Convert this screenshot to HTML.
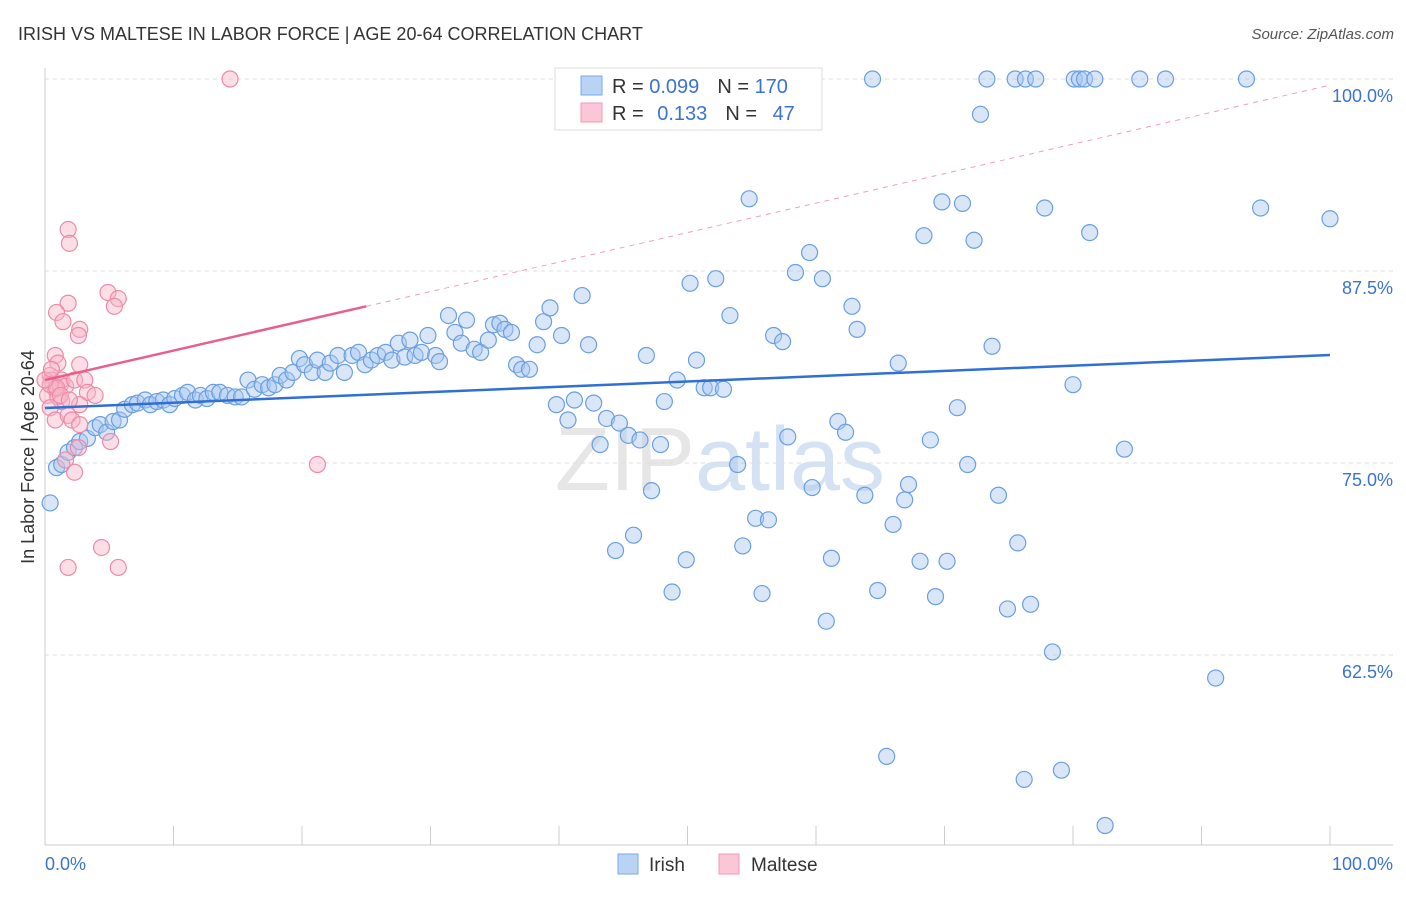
<!DOCTYPE html>
<html><head><meta charset="utf-8"><style>
body{margin:0;background:#fff;font-family:"Liberation Sans",sans-serif}
svg text{font-family:"Liberation Sans",sans-serif}
</style></head><body>
<svg id="chart" width="1406" height="892" xmlns="http://www.w3.org/2000/svg">
<text x="18" y="40" font-size="18" fill="#333">IRISH VS MALTESE IN LABOR FORCE | AGE 20-64 CORRELATION CHART</text>
<text x="1394" y="39" font-size="15" fill="#555" text-anchor="end" font-style="italic">Source: ZipAtlas.com</text>
<text x="720" y="490" font-size="90" text-anchor="middle" fill="#e6e6e6" font-family="Liberation Serif">ZIP<tspan fill="#d4e2f4" font-family="Liberation Sans">atlas</tspan></text>
<g id="grid"></g>
<g id="axes"></g>
<g id="trends"></g>
<g id="points"></g>
<g>
<rect x="555" y="68" width="267" height="62" fill="#fff" stroke="#ddd"/>
<rect x="581" y="76" width="21" height="19" fill="#b9d3f5" stroke="#7aa8e6"/>
<rect x="581" y="103" width="21" height="19" fill="#fbc6d6" stroke="#f09ab5"/>
<text x="612" y="93" font-size="20" fill="#333">R = <tspan fill="#3b73d1">0.099</tspan><tspan dx="18">N = </tspan><tspan fill="#3b73d1">170</tspan></text>
<text x="612" y="120" font-size="20" fill="#333">R = <tspan fill="#3b73d1" dx="8">0.133</tspan><tspan dx="18">N = </tspan><tspan fill="#3b73d1" dx="10">47</tspan></text>
</g>
<g>
<rect x="618" y="854" width="20" height="20" fill="#b9d3f5" stroke="#7aa8e6"/>
<text x="649" y="871" font-size="19" fill="#333">Irish</text>
<rect x="719" y="854" width="20" height="20" fill="#fbc6d6" stroke="#f09ab5"/>
<text x="751" y="871" font-size="19" fill="#333">Maltese</text>
</g>
<text transform="translate(34,457) rotate(-90)" font-size="18" fill="#333" text-anchor="middle">In Labor Force | Age 20-64</text>
</svg>
<script>
const yTicks=[62.5,75,87.5,100];
const yTickLabels=["62.5%","75.0%","87.5%","100.0%"];
const irishX=[0.4,0.9,1.3,1.8,2.3,2.7,3.3,3.9,4.3,4.8,5.3,5.8,6.2,6.8,7.2,7.8,8.2,8.7,9.2,9.7,10.1,10.7,11.1,11.7,12.1,12.6,13.1,13.6,14.2,14.8,15.3,15.8,16.3,16.9,17.4,17.9,18.3,18.8,19.3,19.8,20.2,20.8,21.2,21.8,22.2,22.8,23.3,23.9,24.4,24.9,25.4,25.9,26.5,27.0,27.5,28.0,28.4,28.8,29.3,29.8,30.4,30.7,31.4,31.9,32.4,32.8,33.4,33.9,34.5,34.9,35.4,35.8,36.3,36.7,37.1,37.7,38.3,38.8,39.3,39.8,40.2,40.7,41.2,41.8,42.3,42.7,43.2,43.7,44.4,44.7,45.4,45.8,46.3,46.8,47.2,47.9,48.2,48.8,49.2,49.9,50.2,50.7,51.3,51.8,52.2,52.8,53.3,53.9,54.3,54.8,55.3,55.8,56.3,56.7,57.4,57.8,58.4,58.8,59.5,59.7,60.5,60.8,61.2,61.7,62.3,62.8,63.2,63.8,64.4,64.8,66.0,66.4,66.9,67.2,68.1,68.4,68.9,69.3,69.8,70.2,71.0,71.4,71.8,72.3,72.8,73.3,73.7,74.2,74.9,75.5,75.7,76.3,76.7,77.1,77.8,78.4,79.1,80.0,80.1,80.5,80.9,81.3,81.7,82.5,84.0,85.2,87.2,91.1,93.5,94.6,100,76.2,65.5];
const irishY=[72.4,74.7,74.9,75.7,76.0,76.4,76.6,77.3,77.5,77.0,77.7,77.8,78.5,78.8,78.9,79.1,78.8,79.0,79.1,78.8,79.2,79.4,79.6,79.1,79.4,79.2,79.6,79.6,79.4,79.3,79.3,80.4,79.8,80.1,79.9,80.1,80.7,80.4,80.9,81.8,81.4,80.9,81.7,80.9,81.5,82.0,80.9,82.0,82.2,81.4,81.7,82.0,82.2,81.7,82.8,81.9,83.0,82.0,82.2,83.3,82.0,81.6,84.6,83.5,82.8,84.3,82.4,82.2,83.0,84.0,84.1,83.7,83.5,81.4,81.1,81.1,82.7,84.2,85.1,78.8,83.3,77.8,79.1,85.9,82.7,78.9,76.2,77.9,69.3,77.6,76.8,70.3,76.5,82.0,73.2,76.2,79.0,66.6,80.4,68.7,86.7,81.7,79.9,79.9,87.0,79.8,84.6,74.9,69.6,92.2,71.4,66.5,71.3,83.3,82.9,76.7,87.4,100,88.7,73.4,87.0,64.7,68.8,77.7,77.0,85.2,83.7,72.9,100,66.7,71.0,81.5,72.6,73.6,68.6,89.8,76.5,66.3,92.0,68.6,78.6,91.9,74.9,89.5,97.7,100,82.6,72.9,65.5,100,69.8,100,65.8,100,91.6,62.7,55.0,80.1,100,100,100,90.0,100,51.4,75.9,100,100,61.0,100,91.6,90.9,54.4,55.9];
const malteseX=[14.4,1.8,1.9,4.9,5.7,5.4,1.8,0.9,1.4,2.7,2.6,0.8,1.0,2.7,0.4,0.5,1.2,1.3,1.6,0.8,0.2,1.0,1.3,2.3,3.1,3.3,3.9,0.4,2.7,0.8,1.8,2.1,2.7,2.6,1.6,2.3,5.1,4.4,5.7,1.8,21.2,0.4,0.9,0.0,1.2,1.9,0.5];
const malteseY=[100,90.2,89.3,86.1,85.7,85.2,85.4,84.8,84.2,83.7,83.3,82.0,81.5,81.4,80.7,80.4,80.1,80.4,80.0,79.8,79.4,79.3,79.0,80.4,80.4,79.6,79.4,78.6,78.8,77.8,78.1,77.8,77.5,76.0,75.2,74.4,76.4,69.5,68.2,68.2,74.9,80.1,79.9,80.4,79.4,79.1,81.1];
const irishTrend=[78.58,82.03];
const malteseTrend=[80.4,99.6];
const NS="http://www.w3.org/2000/svg";
const xs=v=>45+v*12.85;
const ys=v=>463-(v-75)*15.36;
function mk(tag,attrs,parent){const e=document.createElementNS(NS,tag);for(const k in attrs)e.setAttribute(k,attrs[k]);parent.appendChild(e);return e;}
const grid=document.getElementById('grid'),axes=document.getElementById('axes'),trends=document.getElementById('trends'),pts=document.getElementById('points');
yTicks.forEach((t,i)=>{
 const l=mk('line',{x1:45,x2:1393,y1:ys(t),y2:ys(t),stroke:'#ddd','stroke-dasharray':'4,4'},grid);
 
 
 const tx=mk('text',{x:1393,y:ys(t)+23,'font-size':18,fill:'#3b73d1','text-anchor':'end'},grid);
 tx.textContent=yTickLabels[i];
 
 
});
const xa=mk('line',{x1:45,x2:1393,y1:845,y2:845,stroke:'#ccc'},axes);


const ya=mk('line',{x1:45,x2:45,y1:68,y2:845,stroke:'#ccc'},axes);


for(let i=0;i<=10;i++){const tk=mk('line',{x1:xs(i*10),x2:xs(i*10),y1:826,y2:845,stroke:'#ccc'},axes);
 
 }
const x0=mk('text',{x:45,y:870,'font-size':18,fill:'#3b73d1'},axes);x0.textContent='0.0%';


const x1=mk('text',{x:1393,y:870,'font-size':18,fill:'#3b73d1','text-anchor':'end'},axes);x1.textContent='100.0%';


function dot(x,y,f,s,name){const c=mk('circle',{cx:xs(x),cy:ys(y),r:8,fill:f,'fill-opacity':0.45,stroke:s,'stroke-width':1.2},pts);
 
 }
irishX.forEach((x,i)=>dot(x,irishY[i],'#a8c8f0','#6a9fe0','irish-point'));
malteseX.forEach((x,i)=>dot(x,malteseY[i],'#f7b6c8','#ee8aa8','maltese-point'));
const it=mk('line',{x1:xs(0),y1:ys(irishTrend[0]),x2:xs(100),y2:ys(irishTrend[1]),stroke:'#2f6fd6','stroke-width':2.5},pts);


const mAt=v=>malteseTrend[0]+(malteseTrend[1]-malteseTrend[0])*v/100;
const md=mk('line',{x1:xs(25),y1:ys(mAt(25)),x2:xs(100),y2:ys(mAt(100)),stroke:'#f0a0b8','stroke-width':1,'stroke-dasharray':'5,5'},trends);


const ms=mk('line',{x1:xs(0),y1:ys(mAt(0)),x2:xs(25),y2:ys(mAt(25)),stroke:'#e8608a','stroke-width':2.5},pts);


</script>
</body></html>
